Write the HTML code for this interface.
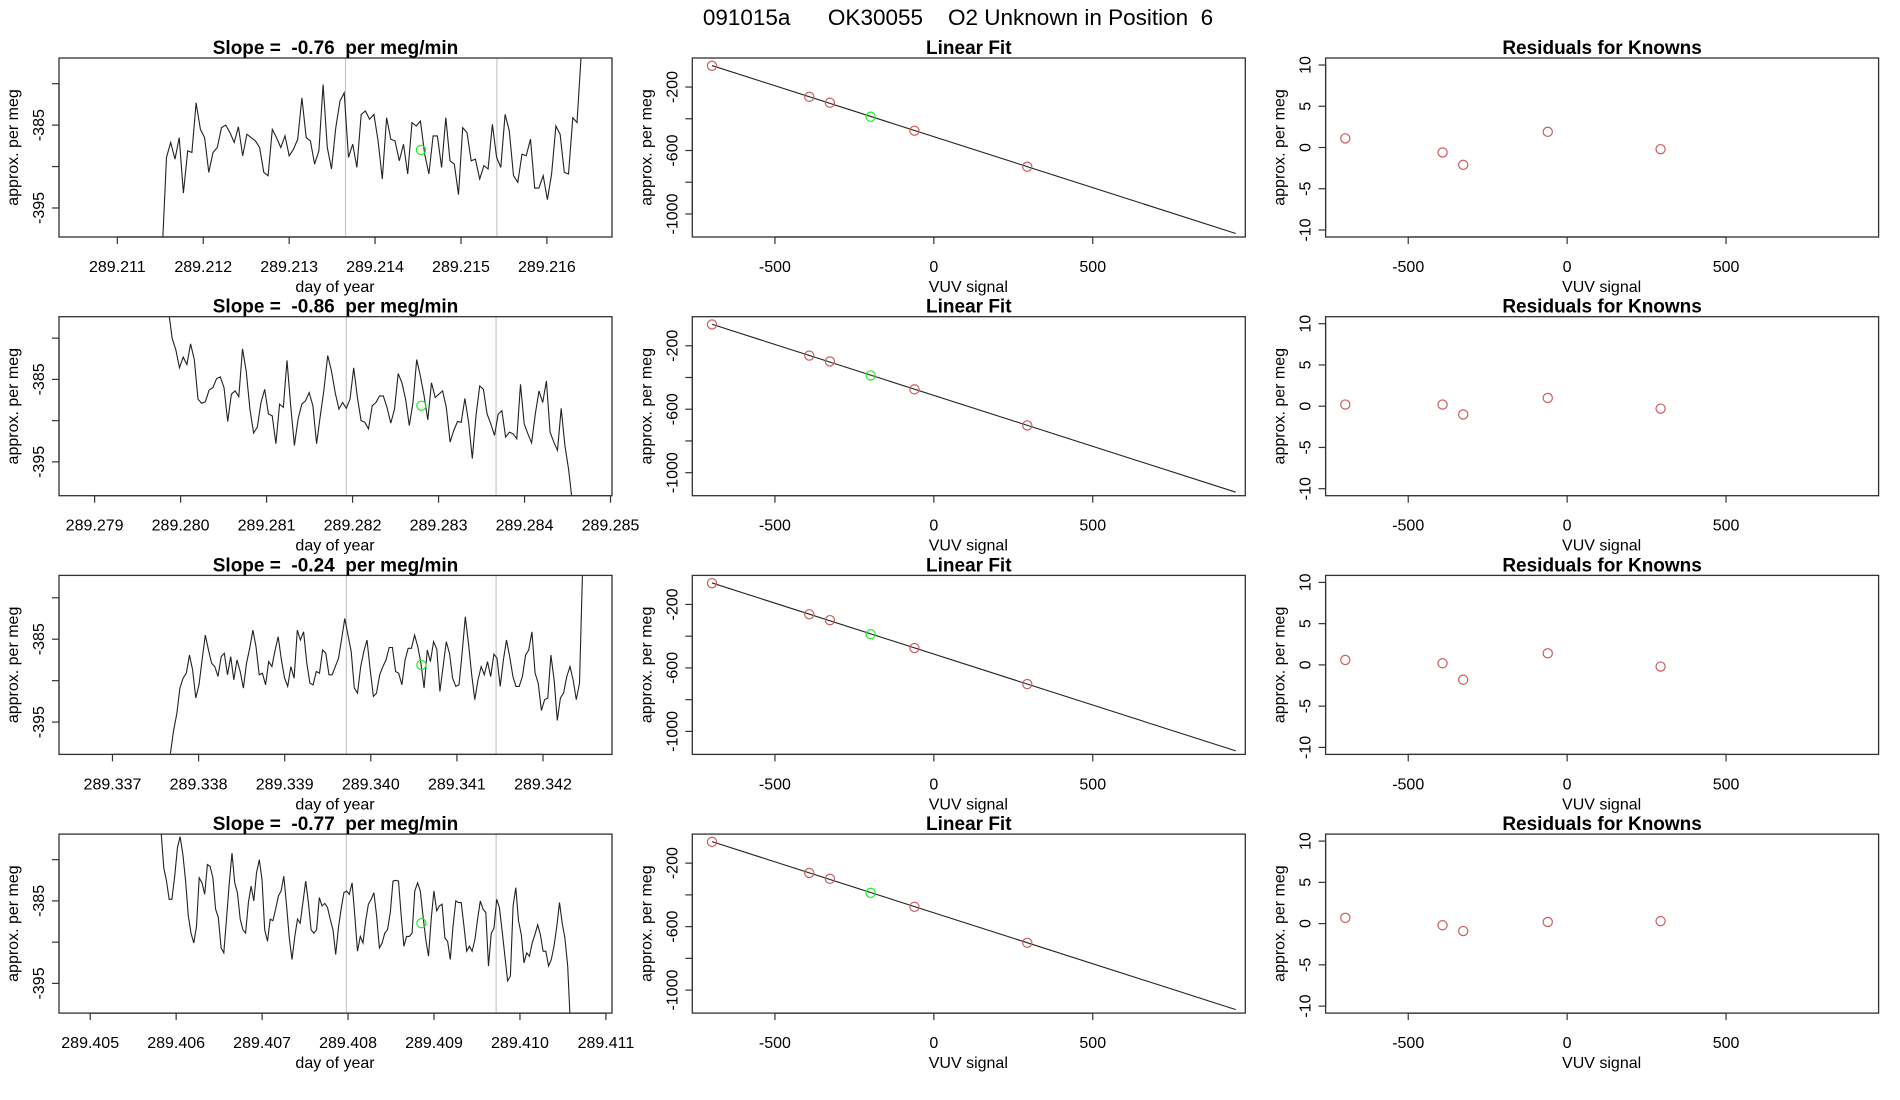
<!DOCTYPE html>
<html><head><meta charset="utf-8"><title>091015a OK30055 O2 Unknown in Position 6</title>
<style>
html,body{margin:0;padding:0;background:#fff;}
svg{display:block;font-family:"Liberation Sans",Arial,sans-serif;}
text{white-space:pre;}
</style></head>
<body>
<svg id="fig" width="1900" height="1100" viewBox="0 0 1900 1100" xmlns="http://www.w3.org/2000/svg">
<rect x="0" y="0" width="1900" height="1100" fill="#fff"/>
<text x="958" y="25" font-size="22.5" text-anchor="middle" xml:space="preserve">091015a      OK30055    O2 Unknown in Position  6</text>
</svg>
<script>
// ---- time-series data (approx. per meg), uniformly sampled between start/end day ----
const slopes = ["-0.76", "-0.86", "-0.24", "-0.77"];
const tStart = [289.211523, 289.279858, 289.337673, 289.405824];
const tEnd = [289.216400, 289.284556, 289.342460, 289.410587];
const xMin = [289.210321, 289.278586, 289.336379, 289.404637];
const xMax = [289.216758, 289.285017, 289.342801, 289.411071];
const yTop = [-376.9, -377.4, -377.3, -376.9];
const yBot = [-398.5, -399.1, -398.9, -398.6];
const vlineA = [289.213656, 289.281927, 289.339716, 289.407980];
const vlineB = [289.215418, 289.283669, 289.341455, 289.409723];
const greenT = [289.214534, 289.282800, 289.340588, 289.408854];
const greenV = [-388.0, -388.2, -388.1, -387.7];
const vals1 = [-400,-388.9,-387.1,-389.1,-386.5,-393.2,-388.1,-388.3,-382.3,-385.5,-386.5,-390.7,-388.3,-387.7,-385.3,-385.0,-385.9,-387.1,-385.2,-388.7,-386.1,-386.5,-386.9,-387.7,-390.7,-391.1,-385.5,-386.5,-387.7,-386.3,-388.7,-387.9,-386.7,-381.7,-386.5,-386.9,-389.7,-388.1,-380.1,-387.7,-390.3,-385.3,-382.1,-381.1,-388.9,-387.3,-390.1,-383.7,-383.3,-384.3,-383.7,-386.9,-391.5,-384.1,-386.7,-386.9,-389.3,-387.3,-390.9,-384.7,-385.1,-384.5,-388.5,-390.9,-386.3,-386.3,-390.1,-384.1,-389.3,-389.7,-393.4,-385.3,-385.9,-389.3,-389.1,-391.5,-389.9,-390.3,-384.9,-388.9,-390.1,-383.7,-385.7,-391.1,-391.9,-388.5,-388.7,-386.7,-392.6,-392.6,-391.1,-394.0,-390.9,-385.1,-386.1,-390.7,-390.9,-384.1,-384.7,-376.5];
const vals2 = [-376.5,-380.0,-381.4,-383.6,-382.3,-383.2,-380.7,-382.6,-387.4,-387.9,-387.7,-386.3,-386.0,-384.9,-384.7,-386.0,-390.1,-386.8,-386.4,-387.1,-381.3,-384.0,-388.6,-391.5,-390.8,-387.8,-386.2,-389.2,-389.4,-392.8,-388.0,-388.4,-382.7,-388.2,-393.0,-389.8,-388.0,-387.6,-386.6,-388.2,-392.8,-389.4,-386.2,-382.1,-384.0,-386.6,-388.6,-387.8,-388.5,-387.4,-383.6,-387.2,-390.0,-390.2,-391.0,-388.2,-387.8,-387.0,-387.0,-388.4,-390.3,-388.6,-384.3,-385.4,-387.4,-390.6,-387.8,-382.6,-384.6,-387.0,-389.9,-385.4,-387.2,-386.8,-386.4,-388.4,-392.6,-391.2,-390.1,-390.2,-387.3,-390.2,-394.6,-389.4,-385.8,-386.2,-389.2,-390.4,-391.8,-389.2,-388.8,-392.0,-391.4,-391.6,-392.2,-385.6,-390.4,-391.6,-392.7,-389.2,-386.4,-387.8,-385.2,-391.4,-392.6,-393.6,-388.5,-393.0,-396.0,-400];
const vals3 = [-398.8,-396.0,-394.0,-390.9,-389.7,-389.1,-386.9,-388.7,-392.1,-390.5,-387.5,-384.5,-386.3,-387.9,-388.3,-389.5,-387.1,-386.7,-389.3,-387.1,-389.9,-387.5,-388.9,-390.9,-387.9,-386.1,-383.9,-385.9,-389.3,-389.1,-390.5,-387.7,-388.3,-386.3,-384.7,-387.5,-389.7,-390.7,-388.3,-389.7,-383.9,-385.1,-384.1,-387.9,-390.3,-390.5,-388.9,-389.1,-386.3,-386.7,-389.3,-389.3,-388.3,-387.3,-384.9,-382.5,-384.5,-386.5,-390.9,-391.5,-388.3,-386.5,-385.1,-388.7,-391.9,-391.5,-389.3,-388.3,-387.5,-386.0,-386.0,-388.9,-389.1,-390.5,-387.5,-386.1,-386.1,-384.5,-385.9,-387.9,-390.9,-386.3,-387.7,-385.3,-386.2,-391.3,-388.3,-385.3,-386.7,-389.7,-390.7,-390.5,-386.7,-382.3,-385.5,-389.3,-392.3,-389.9,-388.3,-389.3,-387.7,-389.5,-386.8,-387.3,-390.7,-387.5,-385.1,-387.1,-389.5,-390.7,-390.7,-389.5,-386.9,-386.3,-384.1,-389.1,-390.3,-393.6,-392.3,-392.1,-386.9,-389.9,-394.8,-392.1,-391.5,-389.5,-388.3,-389.9,-392.3,-390.3,-376.5];
const vals4 = [-376.5,-381.0,-382.6,-384.8,-384.8,-382.0,-378.6,-377.2,-379.4,-382.6,-386.8,-388.9,-390.1,-388.1,-382.2,-382.8,-384.2,-380.6,-380.8,-382.2,-386.0,-387.0,-390.7,-391.3,-387.2,-382.8,-379.2,-382.8,-384.0,-387.2,-388.5,-388.9,-385.2,-383.2,-385.0,-381.6,-380.0,-382.4,-388.5,-389.9,-387.2,-387.4,-386.0,-384.4,-383.8,-382.0,-385.6,-389.5,-392.1,-389.3,-387.2,-387.7,-385.2,-382.6,-385.2,-388.5,-388.9,-388.5,-384.6,-385.6,-385.3,-385.8,-387.2,-388.5,-391.5,-388.3,-386.0,-384.0,-383.8,-384.2,-382.8,-386.8,-391.1,-389.3,-390.1,-387.4,-385.4,-384.8,-384.0,-386.8,-390.7,-390.1,-388.9,-388.5,-386.4,-382.6,-382.5,-382.6,-386.8,-390.5,-389.3,-389.3,-388.9,-383.8,-382.8,-383.8,-386.8,-389.7,-391.7,-387.2,-383.8,-386.2,-385.6,-385.4,-389.5,-389.9,-392.1,-388.1,-385.0,-385.2,-385.2,-388.1,-391.1,-390.5,-391.1,-389.7,-387.2,-385.0,-386.0,-386.4,-392.9,-388.9,-388.3,-384.8,-385.8,-388.7,-391.7,-394.7,-394.1,-385.6,-383.4,-387.4,-389.1,-392.5,-391.3,-391.7,-390.1,-389.1,-387.9,-389.1,-391.1,-391.1,-392.9,-392.1,-390.5,-388.1,-385.2,-387.7,-389.5,-392.9,-400];
const tsVals = [vals1, vals2, vals3, vals4];
const tsTicksY = [-380, -385, -390, -395];
const tsLabelsY = ["", "-385", "", "-395"];

// ---- linear fit data ----
const knownX = [-698, -392, -327, -61, 294];
const knownY = [-66, -262, -299, -475, -702];
const unknownX = [-199];
const unknownY = [-387];
const fitXRange = [-698, 950];
const linTicksX = [-500, 0, 500];
const linTicksY = [-200, -400, -600, -800, -1000];
const linLabelsY = ["-200", "", "-600", "", "-1000"];

// ---- residuals ----
const resid1 = [1.1, -0.6, -2.1, 1.9, -0.2];
const resid2 = [0.2, 0.2, -1.0, 1.0, -0.3];
const resid3 = [0.6, 0.2, -1.8, 1.4, -0.2];
const resid4 = [0.7, -0.2, -0.9, 0.2, 0.3];
const residAll = [resid1, resid2, resid3, resid4];
const resTicksY = [10, 5, 0, -5, -10];

const NS = "http://www.w3.org/2000/svg";
const svg = document.getElementById("fig");
function mk(tag, attrs, parent) {
  const e = document.createElementNS(NS, tag);
  for (const k in attrs) e.setAttribute(k, attrs[k]);
  (parent || svg).appendChild(e);
  return e;
}
function txt(s, attrs, parent) { const e = mk("text", attrs, parent); e.setAttributeNS("http://www.w3.org/XML/1998/namespace", "xml:space", "preserve"); e.textContent = s; return e; }

const COLW = 633.3, BX0 = 59, BX1 = 612, ROWH = 258.7, BY0 = 58, BY1 = 237;
const XLIM_LIN = [-760, 980];
const YLIM_LIN = [-17, -1145];
const YLIM_RES = [10.85, -10.85];
const RED = "#cd5c5c", GREEN = "#22ee22";

function scale(d0, d1, r0, r1) { return v => r0 + (v - d0) / (d1 - d0) * (r1 - r0); }

function frame(g, x0, x1, y0, y1, title, name) {
  const t = txt(title, {x: (x0 + x1) / 2, y: y0 - 4, "font-size": 19, "font-weight": "bold", "text-anchor": "middle"}, g);
  
  
}
function box(g, x0, x1, y0, y1, name) {
  const r = mk("rect", {x: x0, y: y0, width: x1 - x0, height: y1 - y0, fill: "none", stroke: "#333", "stroke-width": 1.3}, g);
  
  
}
function xAxis(g, ticks, labels, sx, y1, title, name) {
  const ax = mk("g", {}, g);
  
  
  const xs = ticks.map(sx);
  mk("line", {x1: xs[0], x2: xs[xs.length - 1], y1: y1, y2: y1, stroke: "#333", "stroke-width": 1.2}, ax);
  ticks.forEach((t, i) => {
    mk("line", {x1: xs[i], x2: xs[i], y1: y1, y2: y1 + 7, stroke: "#333", "stroke-width": 1.2}, ax);
    const l = txt(labels[i], {x: xs[i], y: y1 + 35, "font-size": 16, "text-anchor": "middle"}, ax);
    
    
  });
  const at = txt(title, {x: 335 + (g._cx || 0), y: y1 + 55, "font-size": 16, "text-anchor": "middle"}, ax);
  
  
}
function yAxis(g, ticks, labels, sy, x0, y0, y1, name) {
  const ay = mk("g", {}, g);
  
  
  const ys = ticks.map(sy);
  mk("line", {x1: x0, x2: x0, y1: Math.min(...ys), y2: Math.max(...ys), stroke: "#333", "stroke-width": 1.2}, ay);
  ticks.forEach((t, i) => {
    mk("line", {x1: x0, x2: x0 - 7, y1: ys[i], y2: ys[i], stroke: "#333", "stroke-width": 1.2}, ay);
    if (labels[i] !== "") {
      const l = txt(labels[i], {x: 0, y: 0, "font-size": 16, "text-anchor": "middle", transform: `translate(${x0 - 15},${ys[i]}) rotate(-90)`}, ay);
      
      
    }
  });
  const at = txt("approx. per meg", {x: 0, y: 0, "font-size": 16, "text-anchor": "middle", transform: `translate(${x0 - 41},${(y0 + y1) / 2}) rotate(-90)`}, ay);
  
  
}
function circle(g, cx, cy, color, name) {
  const c = mk("circle", {cx: cx, cy: cy, r: 4.6, fill: "none", stroke: color, "stroke-width": 1.2}, g);
  
  
  return c;
}

// least-squares fit from known arrays
const mx = knownX.reduce((a, b) => a + b, 0) / knownX.length;
const my = knownY.reduce((a, b) => a + b, 0) / knownY.length;
let sxy = 0, sxx = 0;
knownX.forEach((x, i) => { sxy += (x - mx) * (knownY[i] - my); sxx += (x - mx) * (x - mx); });
const fitSlope = sxy / sxx, fitInt = my - fitSlope * mx;

for (let r = 0; r < 4; r++) {
  const oy = r * ROWH;
  const y0 = BY0 + oy, y1 = BY1 + oy;

  // ---------- time series ----------
  {
    const g = mk("g", {});
    
    
    g._cx = 0;
    const x0 = BX0, x1 = BX1;
    const sx = scale(xMin[r], xMax[r], x0, x1);
    const sy = scale(yTop[r], yBot[r], y0, y1);
    const cid = "clipts" + r;
    const cp = mk("clipPath", {id: cid}, g);
    mk("rect", {x: x0, y: y0, width: x1 - x0, height: y1 - y0}, cp);
    [vlineA[r], vlineB[r]].forEach(v => {
      const l = mk("line", {x1: sx(v), x2: sx(v), y1: y0, y2: y1, stroke: "#c8c8c8", "stroke-width": 1.2}, g);
      
      
    });
    const vals = tsVals[r];
    const n = vals.length;
    const pts = vals.map((v, i) => {
      const t = tStart[r] + i * (tEnd[r] - tStart[r]) / (n - 1);
      return sx(t).toFixed(1) + "," + sy(v).toFixed(1);
    }).join(" ");
    const pl = mk("polyline", {points: pts, fill: "none", stroke: "#222", "stroke-width": 1.1, "clip-path": `url(#${cid})`}, g);
    
    
    circle(g, sx(greenT[r]), sy(greenV[r]), GREEN, 'unknown-mean-point');
    box(g, x0, x1, y0, y1, 'time-series');
    frame(g, x0, x1, y0, y1, `Slope =  ${slopes[r]}  per meg/min`, 'slope');
    const ticks = [], labels = [];
    for (let k = Math.ceil(xMin[r] * 1000 - 1e-6); k <= Math.floor(xMax[r] * 1000 + 1e-6); k++) { ticks.push(k / 1000); labels.push((k / 1000).toFixed(3)); }
    xAxis(g, ticks, labels, sx, y1, "day of year", 'time-series');
    yAxis(g, tsTicksY, tsLabelsY, sy, x0, y0, y1, 'time-series');
  }

  // ---------- linear fit ----------
  {
    const g = mk("g", {});
    
    
    g._cx = COLW;
    const x0 = BX0 + COLW, x1 = BX1 + COLW;
    const sx = scale(XLIM_LIN[0], XLIM_LIN[1], x0, x1);
    const sy = scale(YLIM_LIN[0], YLIM_LIN[1], y0, y1);
    const fl = mk("line", {x1: sx(fitXRange[0]), y1: sy(fitInt + fitSlope * fitXRange[0]), x2: sx(fitXRange[1]), y2: sy(fitInt + fitSlope * fitXRange[1]), stroke: "#222", "stroke-width": 1.1}, g);
    
    
    knownX.forEach((x, i) => circle(g, sx(x), sy(knownY[i]), RED, 'known-standard-point'));
    unknownX.forEach((x, i) => circle(g, sx(x), sy(unknownY[i]), GREEN, 'unknown-point'));
    box(g, x0, x1, y0, y1, 'linear-fit');
    frame(g, x0, x1, y0, y1, "Linear Fit", 'linear-fit');
    xAxis(g, linTicksX, linTicksX.map(String), sx, y1, "VUV signal", 'linear-fit');
    yAxis(g, linTicksY, linLabelsY, sy, x0, y0, y1, 'linear-fit');
  }

  // ---------- residuals ----------
  {
    const g = mk("g", {});
    
    
    g._cx = 2 * COLW;
    const x0 = BX0 + 2 * COLW, x1 = BX1 + 2 * COLW;
    const sx = scale(XLIM_LIN[0], XLIM_LIN[1], x0, x1);
    const sy = scale(YLIM_RES[0], YLIM_RES[1], y0, y1);
    const res = residAll[r];
    knownX.forEach((x, i) => circle(g, sx(x), sy(res[i]), RED, 'residual-point'));
    box(g, x0, x1, y0, y1, 'residuals');
    frame(g, x0, x1, y0, y1, "Residuals for Knowns", 'residuals');
    xAxis(g, linTicksX, linTicksX.map(String), sx, y1, "VUV signal", 'residuals');
    yAxis(g, resTicksY, resTicksY.map(String), sy, x0, y0, y1, 'residuals');
  }
}
</script>
</body></html>
